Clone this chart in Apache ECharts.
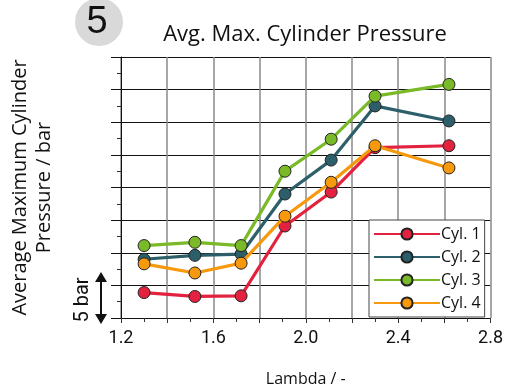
<!DOCTYPE html>
<html><head><meta charset="utf-8">
<script src="https://cdn.jsdelivr.net/npm/echarts@6/dist/echarts.min.js"></script>
<style>html,body{margin:0;padding:0;background:#fff}#c{width:506px;height:392px}</style>
</head><body><div id="c"></div>
<script>
var lambda = [1.3, 1.52, 1.72, 1.91, 2.11, 2.3, 2.62];
var cyl1 = [3.9, 3.3, 3.4, 14.1, 19.3, 26.1, 26.4];
var cyl2 = [9.0, 9.6, 9.8, 19.0, 24.2, 32.5, 30.2];
var cyl3 = [11.1, 11.6, 11.1, 22.5, 27.4, 34.0, 35.8];
var cyl4 = [8.3, 6.9, 8.4, 15.6, 20.8, 26.4, 23.0];
var seriesNames = ['Cyl. 1', 'Cyl. 2', 'Cyl. 3', 'Cyl. 4'];
var xTickLabels = ['1.2', '1.6', '2.0', '2.4', '2.8'];
var colors = ['#e3223f', '#2c5f6a', '#7ab928', '#f7990d'];

var allData = [cyl1, cyl2, cyl3, cyl4];
function pairs(arr){ return lambda.map(function(x,i){ return [x, arr[i]]; }); }

var chart = echarts.init(document.getElementById('c'));
chart.setOption({
  animation: false,
  title: {
    text: 'Avg. Max. Cylinder Pressure',
    left: 300, top: 19, textAlign: 'center',
    textStyle: { fontFamily: 'Open Sans', fontSize: 22, fontWeight: 'normal', color: '#111' }
  },
  grid: { left: 120, right: 15, top: 57, bottom: 69 },
  legend: {
    orient: 'vertical', left: 369, top: 220,
    data: seriesNames,
    backgroundColor: '#fff', borderColor: '#444', borderWidth: 1,
    padding: [6, 4, 6, 4],
    itemWidth: 66, itemHeight: 14, itemGap: 7,
    textStyle: { fontFamily: 'Open Sans', fontSize: 16, color: '#111', padding: [0,0,0,-4] }
  },
  xAxis: {
    type: 'value', min: 1.2, max: 2.8, interval: 0.2,
    name: 'Lambda / -', nameLocation: 'middle', nameGap: 53,
    nameTextStyle: { fontFamily: 'Open Sans', fontSize: 16, color: '#111' },
    axisLine: { lineStyle: { color: '#111', width: 1 } },
    axisTick: { show: true, length: 5, lineStyle: { color: '#333' } },
    minorTick: { show: true, splitNumber: 2, length: 4, lineStyle: { color: '#333' } },
    splitLine: { show: true, lineStyle: { color: '#8a8a8a', width: 1.5 } },
    axisLabel: {
      margin: 11,
      fontFamily: 'Roboto', fontSize: 18, color: '#111',
      formatter: function(v){
        var s = v.toFixed(1);
        return xTickLabels.indexOf(s) >= 0 ? s : '';
      }
    }
  },
  yAxis: {
    type: 'value', min: 0, max: 40, interval: 5,
    name: 'Average Maximum Cylinder\nPressure / bar', nameLocation: 'middle', nameGap: 65,
    nameTextStyle: { fontFamily: 'Open Sans', fontSize: 20, color: '#111', lineHeight: 24 },
    axisLine: { show: true, lineStyle: { color: '#111', width: 1 } },
    axisTick: { show: true, length: 10, lineStyle: { color: '#111' } },
    minorTick: { show: true, splitNumber: 2, length: 4, lineStyle: { color: '#333' } },
    splitLine: { show: true, lineStyle: { color: '#111', width: 1 } },
    axisLabel: { show: false }
  },
  series: allData.map(function(d, i){
    return {
      name: seriesNames[i], type: 'line', data: pairs(d),
      symbol: 'circle', symbolSize: 12,
      lineStyle: { color: colors[i], width: 3.2 },
      itemStyle: { color: colors[i], borderColor: '#222', borderWidth: 1 },
      z: 2 + i
    };
  }),
  graphic: [
    { type: 'circle', shape: { cx: 99, cy: 22, r: 24 }, style: { fill: '#d9d9d9' }, z: 1 },
    { type: 'text', x: 97, y: 23, style: { text: '5', fontFamily: 'Liberation Sans', fontSize: 38, fill: '#111', align: 'center', verticalAlign: 'middle' }, z: 2 },
    { type: 'text', x: 83, y: 300, rotation: Math.PI/2, style: { text: '5 bar', fontFamily: 'Roboto', fontSize: 20, fill: '#111', align: 'center', verticalAlign: 'middle' } },
    { type: 'line', shape: { x1: 101, y1: 278, x2: 101, y2: 318 }, style: { stroke: '#111', lineWidth: 2 } },
    { type: 'polygon', shape: { points: [[101, 272], [95, 282], [107, 282]] }, style: { fill: '#111' } },
    { type: 'polygon', shape: { points: [[101, 324], [95, 314], [107, 314]] }, style: { fill: '#111' } }
  ]
});
</script></body></html>
